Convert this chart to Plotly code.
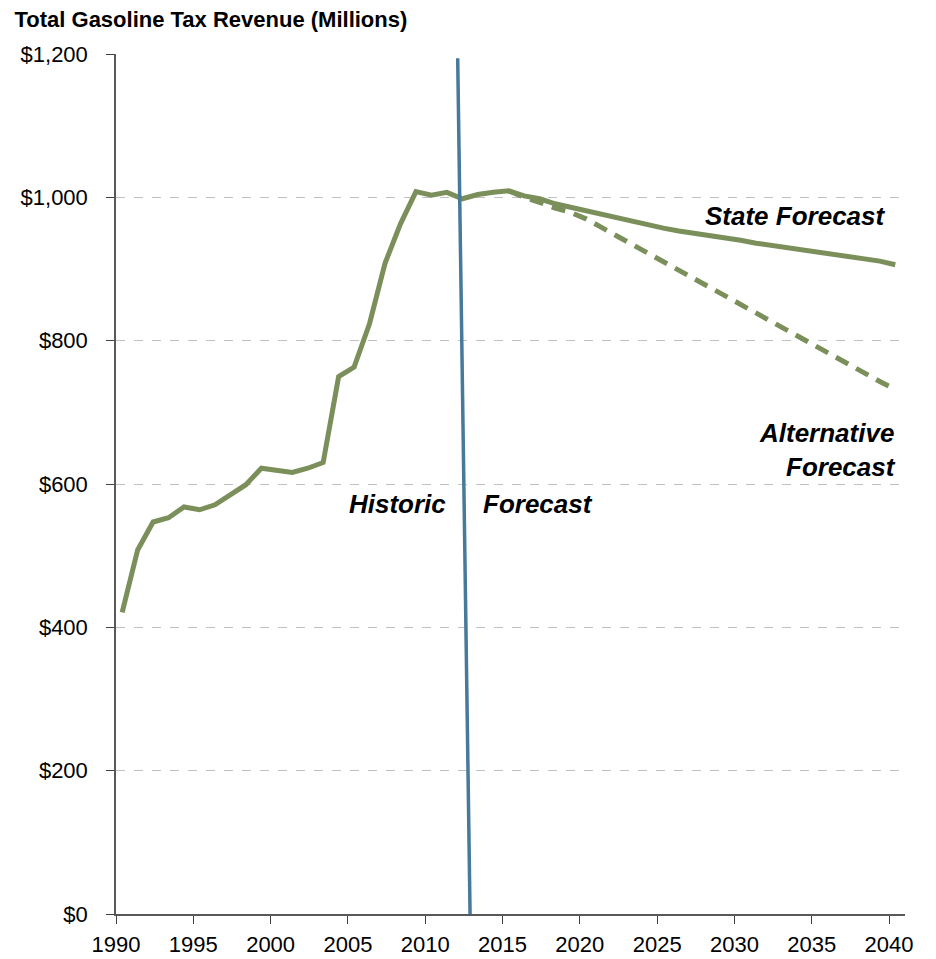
import plotly.graph_objects as go

# fiscal years and revenue ($ millions)
years = list(range(1990, 2041))
state_forecast = [
    421, 508, 547, 553, 568, 564, 571, 584, 599, 622,
    619, 616, 622, 630, 750, 763, 824, 908, 963, 1008,
    1003, 1007, 998, 1004, 1007, 1009, 1002, 998, 991, 986,
    981, 976, 971, 967, 961, 957, 953, 950, 946, 943,
    940, 936, 933, 929, 926, 923, 920, 917, 914, 911, 906,
]
alt_years = list(range(2015, 2041))
alt_forecast = [
    1009, 1000, 993, 985, 979, 970, 958, 946, 934, 922,
    910, 898, 886, 874, 862, 851, 839, 827, 815, 803,
    791, 779, 767, 755, 743, 732,
]
# divider between historic and forecast periods
divider_x = [2012.1, 2012.9]
divider_y = [1194, 0]

GREEN = "#7b8f5b"
BLUE = "#47799b"
FONT = "Liberation Sans, Arial, sans-serif"

# points sit mid-year between the year ticks
x_state = [y + 0.4 for y in years]
x_alt = [y + 0.4 for y in alt_years]

fig = go.Figure()
fig.add_trace(go.Scatter(x=x_alt, y=alt_forecast, mode="lines",
                         line=dict(color=GREEN, width=5, dash="14px,9px")))
fig.add_trace(go.Scatter(x=x_state, y=state_forecast, mode="lines",
                         line=dict(color=GREEN, width=5)))
fig.add_trace(go.Scatter(x=divider_x, y=divider_y, mode="lines",
                         line=dict(color=BLUE, width=3.5)))

label_font = dict(family=FONT, size=26, color="black")
notes = [
    ("<b><i>Historic</i></b>", 2011.5, 572, "right"),
    ("<b><i>Forecast</i></b>", 2013.6, 572, "left"),
    ("<b><i>State Forecast</i></b>", 2039.9, 974, "right"),
    ("<b><i>Alternative<br>Forecast</i></b>", 2040.6, 647, "right"),
]
for text, x, y, anchor in notes:
    fig.add_annotation(x=x, y=y, text=text, showarrow=False, xanchor=anchor,
                       align=anchor, font=label_font)

# page body has an 8px margin, so the figure is sized to fit inside it
fig.update_layout(
    width=928, height=951,
    margin=dict(l=108, r=31, t=46, b=45),
    plot_bgcolor="white", paper_bgcolor="white",
    showlegend=False,
    font=dict(family=FONT, size=22, color="black"),
    title=dict(text="<b>Total Gasoline Tax Revenue (Millions)</b>",
               xref="container", yref="container", x=0.007, y=0.988,
               xanchor="left", yanchor="middle", automargin=False,
               font=dict(family=FONT, size=22, color="black")),
)
fig.update_xaxes(range=[1990, 2041.03], tick0=1990, dtick=5,
                 showgrid=False, zeroline=False, automargin=False,
                 showline=True, linecolor="#595959", linewidth=2,
                 ticks="outside", ticklen=8, tickcolor="#404040",
                 ticklabelstandoff=2)
fig.update_yaxes(range=[0, 1200], dtick=200, tickprefix="$", tickformat=",",
                 showgrid=True, gridcolor="#c0c0c0", griddash="dash", gridwidth=1,
                 zeroline=False, automargin=False,
                 showline=True, linecolor="#595959", linewidth=1.5,
                 ticks="outside", ticklen=8, tickcolor="#404040",
                 ticklabelstandoff=14)

fig.write_html("out.html")
